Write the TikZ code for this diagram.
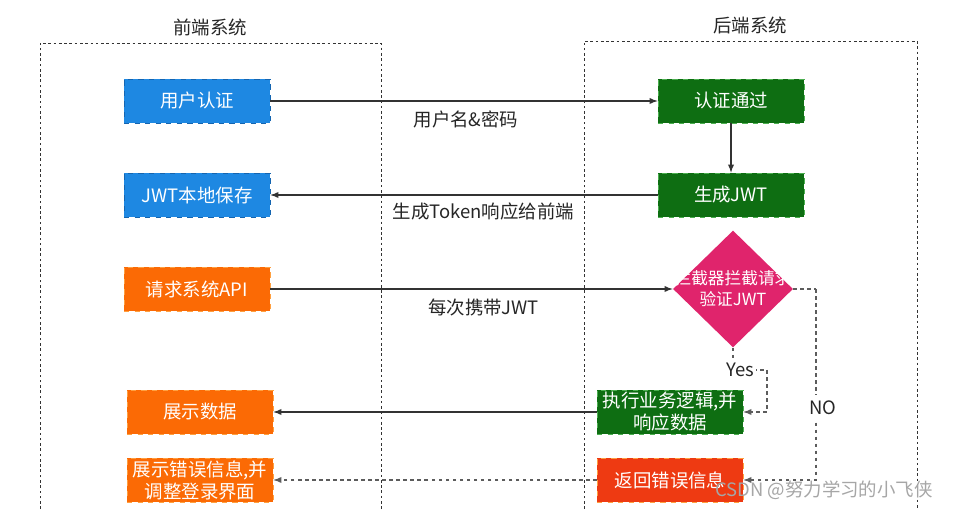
\documentclass[tikz,border=0pt]{standalone}
\usepackage{fontspec}
\setmainfont{Noto Sans CJK SC}
\usetikzlibrary{positioning,arrows,shapes.geometric}

\definecolor{feblue}{HTML}{1E88E2}
\definecolor{beblue}{HTML}{1565B0}
\definecolor{okgreen}{HTML}{0E6E12}
\definecolor{okline}{HTML}{4CAF50}
\definecolor{reqorange}{HTML}{FB6A05}
\definecolor{reqline}{HTML}{FFA040}
\definecolor{errred}{HTML}{EE3A12}
\definecolor{chkpink}{HTML}{E0246C}
\definecolor{wire}{HTML}{333333}

\tikzset{
	box/.style={dashed, minimum width=2.92cm, minimum height=0.88cm, inner sep=1pt,
		text=white, align=center, font=\fontsize{10.5}{12.5}\selectfont},
	bluebox/.style={box, fill=feblue, draw=beblue},
	greenbox/.style={box, fill=okgreen, draw=okline},
	orangebox/.style={box, fill=reqorange, draw=reqline},
	redbox/.style={box, fill=errred, draw=reqline},
	decision/.style={diamond, fill=chkpink, draw=none, minimum width=2.4cm, minimum height=2.34cm, inner sep=0pt},
	frame/.style={draw=wire, dash pattern=on 1.5pt off 1.5pt, line width=0.5pt},
	wirel/.style={draw=wire, line width=0.6pt},
	dline/.style={draw=wire!80, dash pattern=on 2pt off 2pt, line width=0.6pt},
	lbl/.style={font=\fontsize{10.5}{12}\selectfont, text=black!85},
}

\begin{document}
\begin{tikzpicture}[>=latex, x=0.02cm, y=-0.02cm]
\useasboundingbox[fill=white] (0,0) rectangle (956,509);

% the two systems
\draw[frame] (40,509) -- (40,43) -- (381,43) -- (381,509);
\draw[frame] (584,509) -- (584,41) -- (917,41) -- (917,509);
\node[lbl] (fe) at (210,27) {前端系统};
\node[lbl] (be) at (750,25) {后端系统};

% front end
\node[bluebox] (auth) at (197,101) {用户认证};
\node[bluebox] (store) at (197,195) {JWT本地保存};
\node[orangebox] (req) at (197,289) {请求系统API};
\node[orangebox] (show) at (200,412) {展示数据};
\node[orangebox] (showerr) at (200,480) {展示错误信息,并\\调整登录界面};

% back end
\node[greenbox] (pass) at (731,101) {认证通过};
\node[greenbox] (gen) at (731,195) {生成JWT};
\node[decision] (chk) at (733,289) {};
\node[text=white, font=\fontsize{9.5}{12}\selectfont, align=center] (chktxt) at (733,289) {拦截器拦截请求\\验证JWT};
\node[greenbox] (exec) at (670,412) {执行业务逻辑,并\\响应数据};
\node[redbox] (err) at (670,480) {返回错误信息};

\coordinate (yc) at (767,370);
\coordinate (nc) at (816,289);

\draw[wirel,->] (auth) -- node[lbl, below=2pt, pos=0.505]{用户名\&密码} (pass);
\draw[wirel,->] (pass) -- (gen);
\draw[wirel,->] (gen) -- node[lbl, below=1pt, pos=0.45]{生成Token响应给前端} (store);
\draw[wirel,->] (req) -- node[lbl, below=2pt, pos=0.53]{每次携带JWT} (chk);
\draw[dline] (chk.south) |- node[lbl, fill=white, inner sep=1pt, xshift=4pt]{Yes} (yc);
\draw[dline,->] (yc) |- (exec.east);
\draw[dline] (chk.east) -- (nc);
\draw[dline,->] (nc) |- node[lbl, fill=white, pos=0.31, xshift=4pt]{NO} (err.east);
\draw[wirel,->] (exec) -- (show);
\draw[dline,->] (err) -- (showerr);

\node[text=black!35, font=\fontsize{10.5}{12}\selectfont] (mark) at (824,490) {CSDN @努力学习的小飞侠};
\end{tikzpicture}
\end{document}
